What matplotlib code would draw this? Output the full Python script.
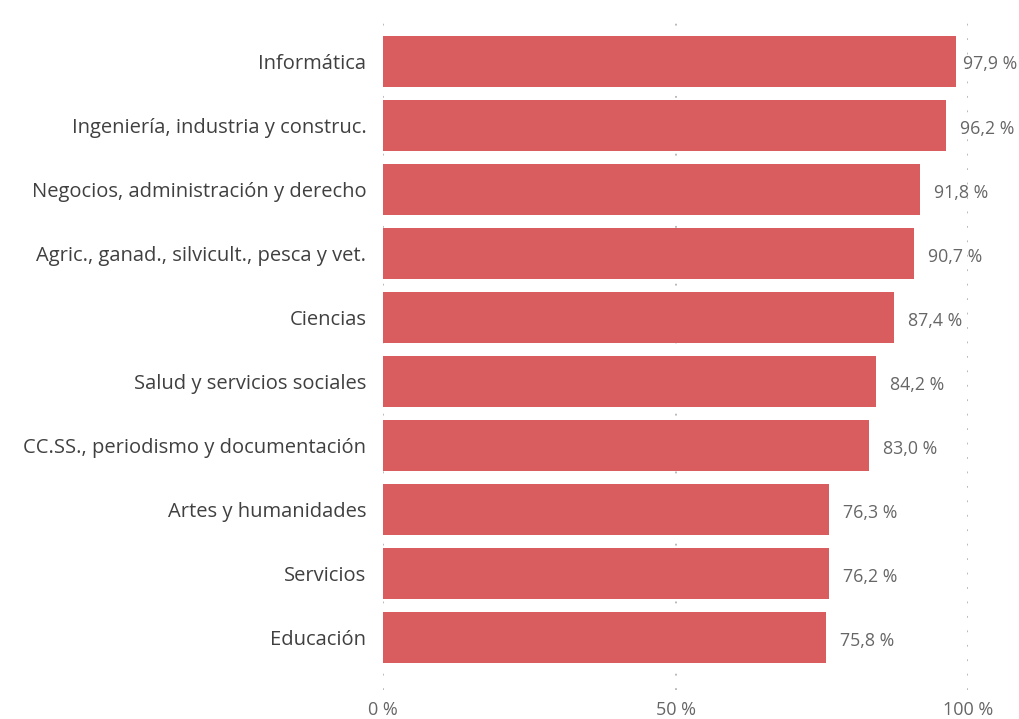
#!/usr/bin/env python3
"""Porcentaje por rama de conocimiento: barras horizontales."""

import matplotlib
matplotlib.use("Agg")
import matplotlib.pyplot as plt
from matplotlib.ticker import FixedLocator

plt.rcParams["font.family"] = ["Open Sans", "DejaVu Sans"]

CATEGORIES = [
    "Informática",
    "Ingeniería, industria y construc.",
    "Negocios, administración y derecho",
    "Agric., ganad., silvicult., pesca y vet.",
    "Ciencias",
    "Salud y servicios sociales",
    "CC.SS., periodismo y documentación",
    "Artes y humanidades",
    "Servicios",
    "Educación",
]
VALUES = [97.9, 96.2, 91.8, 90.7, 87.4, 84.2, 83.0, 76.3, 76.2, 75.8]
X_TICKS = [0, 50, 100]

BAR_COLOR = "#d95c5f"


def fmt(v: float) -> str:
    return f"{v:.1f}".replace(".", ",") + " %"


def main() -> None:
    fig = plt.figure(figsize=(10.19, 7.19), dpi=100)
    ax = fig.add_axes([383 / 1019, 1 - 690 / 719, (968 - 383) / 1019, (690 - 12) / 719])

    ypos = list(range(len(CATEGORIES)))
    ax.barh(ypos, VALUES, height=0.8, color=BAR_COLOR, zorder=2)
    for y, v in zip(ypos, VALUES):
        # labels sit a bit right of the bar, but are kept inside the figure
        ax.text(min(v + 2.4, 99.2), y + 0.05, fmt(v), va="center", ha="left",
                fontsize=12.8, color="#666666", clip_on=False)

    ax.set_xlim(0, 100)
    ax.set_ylim(9.82, -0.77)
    ax.set_yticks(ypos)
    ax.set_yticklabels(CATEGORIES, fontsize=14.5, color="#404040")
    ax.xaxis.set_major_locator(FixedLocator(X_TICKS))
    ax.set_xticklabels([f"{t} %" for t in X_TICKS], fontsize=13, color="#666666")
    ax.tick_params(axis="y", length=0, pad=12)
    ax.tick_params(axis="x", length=0, pad=8)
    ax.grid(axis="x", color="#b4b4b4", linestyle=(0, (1, 7)), linewidth=1.3, zorder=0)
    ax.set_axisbelow(True)
    for s in ax.spines.values():
        s.set_visible(False)

    fig.savefig("out.png", dpi=100)


if __name__ == "__main__":
    main()
